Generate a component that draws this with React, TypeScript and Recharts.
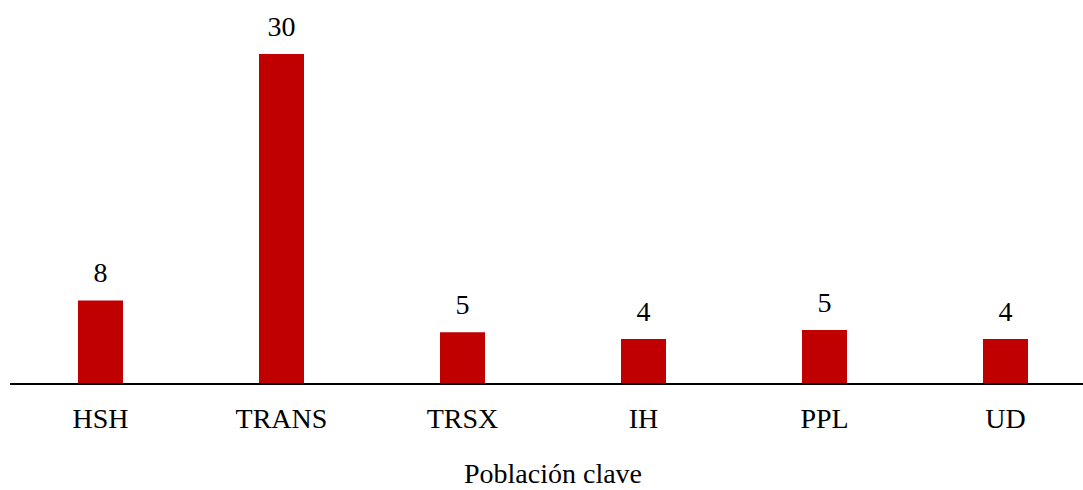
import { Bar, BarChart, LabelList, XAxis, YAxis, Label } from "recharts"

const categories = ["HSH", "TRANS", "TRSX", "IH", "PPL", "UD"]
const values = [7.6, 30, 4.7, 4.1, 4.9, 4.1]
const axisTitle = "Población clave"

const data = categories.map((name, i) => ({ name, value: values[i] }))

const font = "Liberation Serif, Times New Roman, serif"
const textStyle = { fill: "#000", fontSize: 28, fontFamily: font }

const Tick = (props: any) => {
  const { x, y, payload } = props
  return (
    <text x={x} y={y} dy="0.71em" textAnchor="middle" fontFamily={font} fontSize={28} fill="#000">
      {payload.value}
    </text>
  )
}

export default function App() {
  return (
    <div
      style={{
        position: "fixed",
        left: 0,
        top: 0,
        width: 1083,
        height: 490,
        overflow: "hidden",
        background: "#fff",
        fontFamily: font,
      }}
    >
      <BarChart
        width={1100}
        height={490}
        data={data}
        margin={{ top: 54, right: 4, left: 10, bottom: 0 }}
        style={{ fontFamily: font }}
      >
        <YAxis hide domain={[0, 30]} />
        <XAxis
          dataKey="name"
          height={106}
          tickLine={false}
          tickSize={0}
          tickMargin={24}
          axisLine={{ stroke: "#000", strokeWidth: 2 }}
          tick={<Tick />}
          interval={0}
        >
          <Label value={axisTitle} position="insideBottom" offset={7} style={textStyle} />
        </XAxis>
        <Bar dataKey="value" fill="#c00000" barSize={45} isAnimationActive={false}>
          <LabelList
            dataKey="value"
            position="top"
            offset={18}
            formatter={(v: any) => String(Math.round(Number(v)))}
            style={textStyle}
          />
        </Bar>
      </BarChart>
    </div>
  )
}
